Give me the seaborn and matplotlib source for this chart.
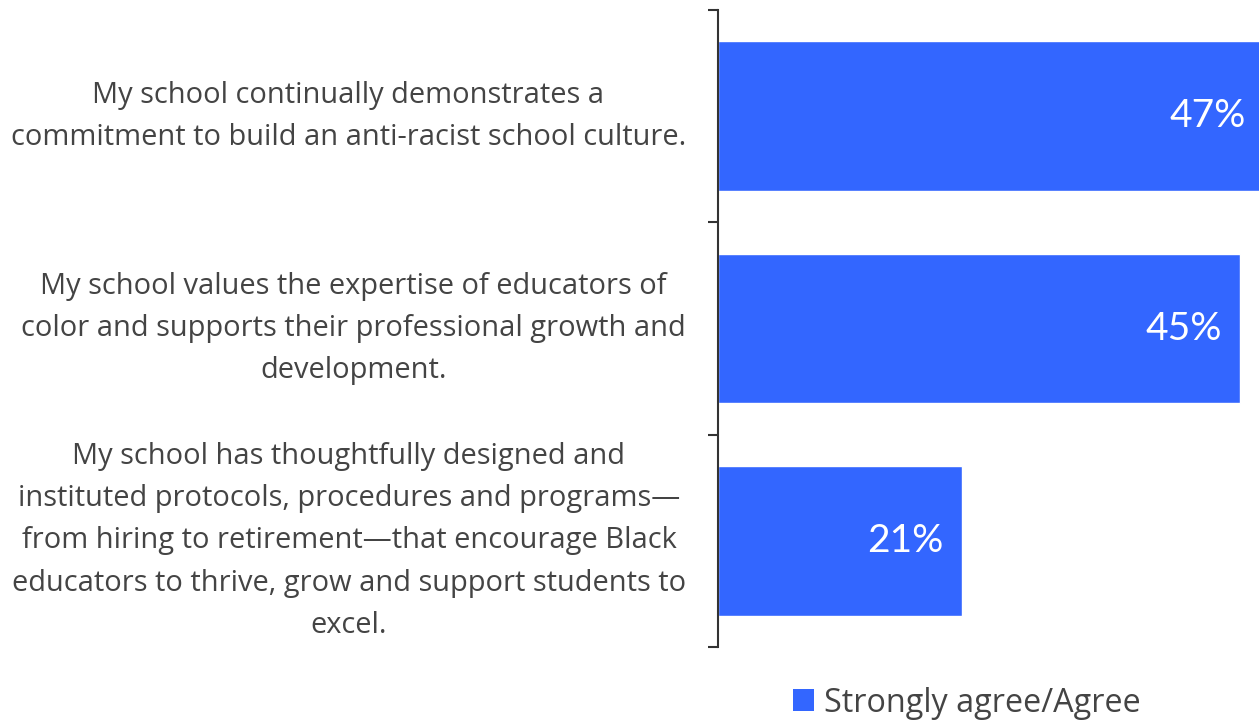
import matplotlib
matplotlib.use("Agg")
import matplotlib.pyplot as plt
import seaborn as sns
import pandas as pd
from matplotlib.patches import Patch

categories = [
    "My school continually demonstrates a\ncommitment to build an anti-racist school culture.",
    "My school values the expertise of educators of\ncolor and supports their professional growth and\ndevelopment.",
    "My school has thoughtfully designed and\ninstituted protocols, procedures and programs\u2014\nfrom hiring to retirement\u2014that encourage Black\neducators to thrive, grow and support students to\nexcel.",
]
values = [47, 45, 21]
series_name = "Strongly agree/Agree"

BLUE = "#3366FF"
TEXT = "#444444"

sns.set_theme(style="white")
plt.rcParams["font.family"] = ["Open Sans", "DejaVu Sans"]

df = pd.DataFrame({"category": categories, "value": values})

fig = plt.figure(figsize=(12.59, 7.21), dpi=100)
ax = fig.add_axes([718 / 1259, 1 - 647 / 721, (1259 - 718) / 1259, 637 / 721])

sns.barplot(data=df, x="value", y="category", color=BLUE, width=0.706,
            saturation=1, ax=ax, orient="h")

ax.set_xlim(0, 46.6)
ax.set_ylim(2.5, -0.5)
ax.set_xlabel("")
ax.set_ylabel("")
ax.set_xticks([])
for s in ["top", "right", "bottom"]:
    ax.spines[s].set_visible(False)
ax.spines["left"].set_color("#333333")
ax.spines["left"].set_linewidth(1.5)

ax.set_yticks(range(len(categories)))
ax.set_yticklabels(categories, fontsize=20.9, color=TEXT, multialignment="center",
                   linespacing=1.6, va="center")
ax.tick_params(axis="y", which="major", length=0, pad=23)
ax.set_yticks([-0.5, 0.5, 1.5, 2.5], minor=True)
ax.tick_params(axis="y", which="minor", left=True, length=7, width=1.5,
               color="#333333", direction="out")

for i, v in enumerate(values):
    ax.text(v - 1.55, i, f"{v}%", color="white", fontsize=28, ha="right",
            va="center", clip_on=False, family=["Lato", "DejaVu Sans"])

handles = [Patch(facecolor=BLUE, edgecolor="none", label=series_name)]
fig.legend(handles=handles, loc="center", bbox_to_anchor=(967 / 1259, 1 - 703 / 721),
           frameon=False, fontsize=23.3, handlelength=0.65, handleheight=0.65,
           handletextpad=0.3, labelcolor=TEXT)

fig.savefig("out.png", dpi=100, facecolor="white")
